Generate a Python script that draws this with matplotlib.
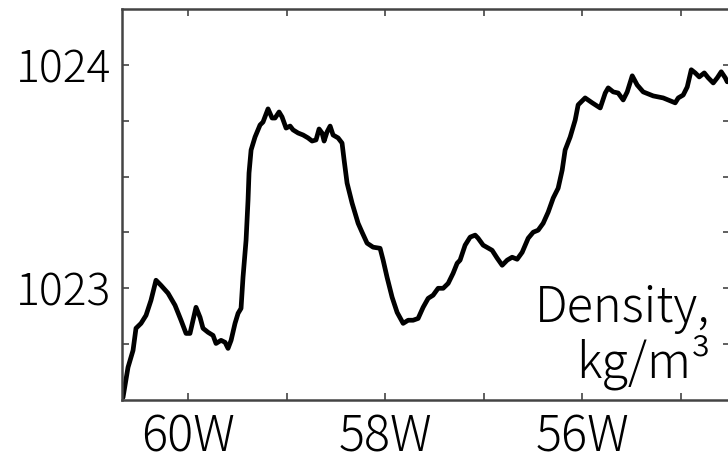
import numpy as np
import matplotlib
matplotlib.use("Agg")
import matplotlib.pyplot as plt
from matplotlib.ticker import FixedLocator

plt.rcParams['font.family'] = ['Noto Sans CJK JP', 'DejaVu Sans']
plt.rcParams['font.weight'] = 'light'

# Density section along the transect (longitude in degrees, negative = W)
lon = [-60.660, -60.609, -60.558, -60.528, -60.477, -60.426, -60.376, -60.325,
       -60.274, -60.203, -60.132, -60.071, -60.020, -59.980, -59.949, -59.919,
       -59.878, -59.848, -59.797, -59.746, -59.716, -59.665, -59.624, -59.594,
       -59.563, -59.523, -59.492, -59.462, -59.442, -59.411, -59.391, -59.381,
       -59.360, -59.320, -59.269, -59.239, -59.188, -59.147, -59.117, -59.076,
       -59.046, -59.005, -58.964, -58.934, -58.883, -58.832, -58.782, -58.741,
       -58.701, -58.670, -58.640, -58.619, -58.589, -58.558, -58.528, -58.477,
       -58.437, -58.416, -58.386, -58.335, -58.274, -58.234, -58.183, -58.122,
       -58.051, -58.020, -57.980, -57.929, -57.878, -57.817, -57.766, -57.716,
       -57.665, -57.614, -57.563, -57.513, -57.462, -57.411, -57.360, -57.310,
       -57.269, -57.239, -57.188, -57.137, -57.086, -57.056, -57.005, -56.914,
       -56.863, -56.812, -56.761, -56.711, -56.660, -56.609, -56.548, -56.497,
       -56.447, -56.396, -56.345, -56.294, -56.244, -56.203, -56.173, -56.122,
       -56.071, -56.041, -55.970, -55.898, -55.817, -55.766, -55.736, -55.685,
       -55.635, -55.584, -55.543, -55.492, -55.442, -55.381, -55.279, -55.178,
       -55.056, -55.025, -54.975, -54.934, -54.893, -54.853, -54.812, -54.761,
       -54.721, -54.670, -54.629, -54.589, -54.548, -54.528]
density = [1022.511, 1022.646, 1022.722, 1022.821, 1022.843, 1022.879, 1022.946, 1023.036,
           1023.013, 1022.978, 1022.924, 1022.857, 1022.798, 1022.798, 1022.857, 1022.915,
           1022.870, 1022.821, 1022.803, 1022.789, 1022.753, 1022.767, 1022.758, 1022.731,
           1022.767, 1022.843, 1022.888, 1022.910, 1023.049, 1023.215, 1023.395, 1023.516,
           1023.619, 1023.677, 1023.731, 1023.744, 1023.803, 1023.762, 1023.762, 1023.789,
           1023.767, 1023.717, 1023.726, 1023.709, 1023.695, 1023.686, 1023.673, 1023.659,
           1023.664, 1023.713, 1023.695, 1023.659, 1023.700, 1023.726, 1023.686, 1023.673,
           1023.650, 1023.574, 1023.471, 1023.381, 1023.291, 1023.251, 1023.202, 1023.184,
           1023.179, 1023.126, 1023.049, 1022.960, 1022.892, 1022.843, 1022.857, 1022.857,
           1022.865, 1022.915, 1022.955, 1022.969, 1023.000, 1023.000, 1023.022, 1023.067,
           1023.112, 1023.126, 1023.193, 1023.229, 1023.238, 1023.224, 1023.193, 1023.170,
           1023.135, 1023.103, 1023.126, 1023.139, 1023.130, 1023.161, 1023.224, 1023.251,
           1023.260, 1023.291, 1023.341, 1023.404, 1023.448, 1023.529, 1023.619, 1023.677,
           1023.753, 1023.821, 1023.852, 1023.830, 1023.807, 1023.874, 1023.897, 1023.879,
           1023.874, 1023.843, 1023.879, 1023.951, 1023.910, 1023.879, 1023.861, 1023.852,
           1023.830, 1023.852, 1023.865, 1023.901, 1023.978, 1023.964, 1023.946, 1023.964,
           1023.942, 1023.919, 1023.942, 1023.969, 1023.942, 1023.924]

xticks = [-60, -58, -56]
xtick_labels = ["60W", "58W", "56W"]
xminor = [-59, -57, -55]
yticks = [1023, 1024]
ytick_labels = ["1023", "1024"]
yminor = [1022.75, 1023.25, 1023.5, 1023.75]

fig = plt.figure(figsize=(7.28, 4.63), dpi=100)
ax = fig.add_axes([122 / 728, 1 - 400 / 463, 608 / 728, 391 / 463])

ax.plot(lon, density, color="black", lw=3.4, solid_joinstyle="round",
        solid_capstyle="round")

ax.set_xlim(-60.67, -54.5)
ax.set_ylim(1022.5, 1024.25)

ax.set_xticks(xticks)
ax.set_xticklabels(xtick_labels, fontsize=35)
ax.xaxis.set_minor_locator(FixedLocator(xminor))
ax.set_yticks(yticks)
ax.set_yticklabels(ytick_labels, fontsize=32, va="center_baseline")
ax.yaxis.set_minor_locator(FixedLocator(yminor))

ax.tick_params(which="both", direction="in", length=5, width=1.2, color="#444444",
               top=True, right=True)
ax.tick_params(axis="x", which="major", pad=9)
ax.tick_params(axis="y", which="major", pad=8)

for s in ax.spines.values():
    s.set_linewidth(1.8)
    s.set_color("#444444")

ax.text(-54.70, 1022.848, "Density,", ha="right", va="baseline", fontsize=35)
ax.text(-54.70, 1022.601, "kg/m³", ha="right", va="baseline", fontsize=35)

fig.savefig("out.png", dpi=100)
